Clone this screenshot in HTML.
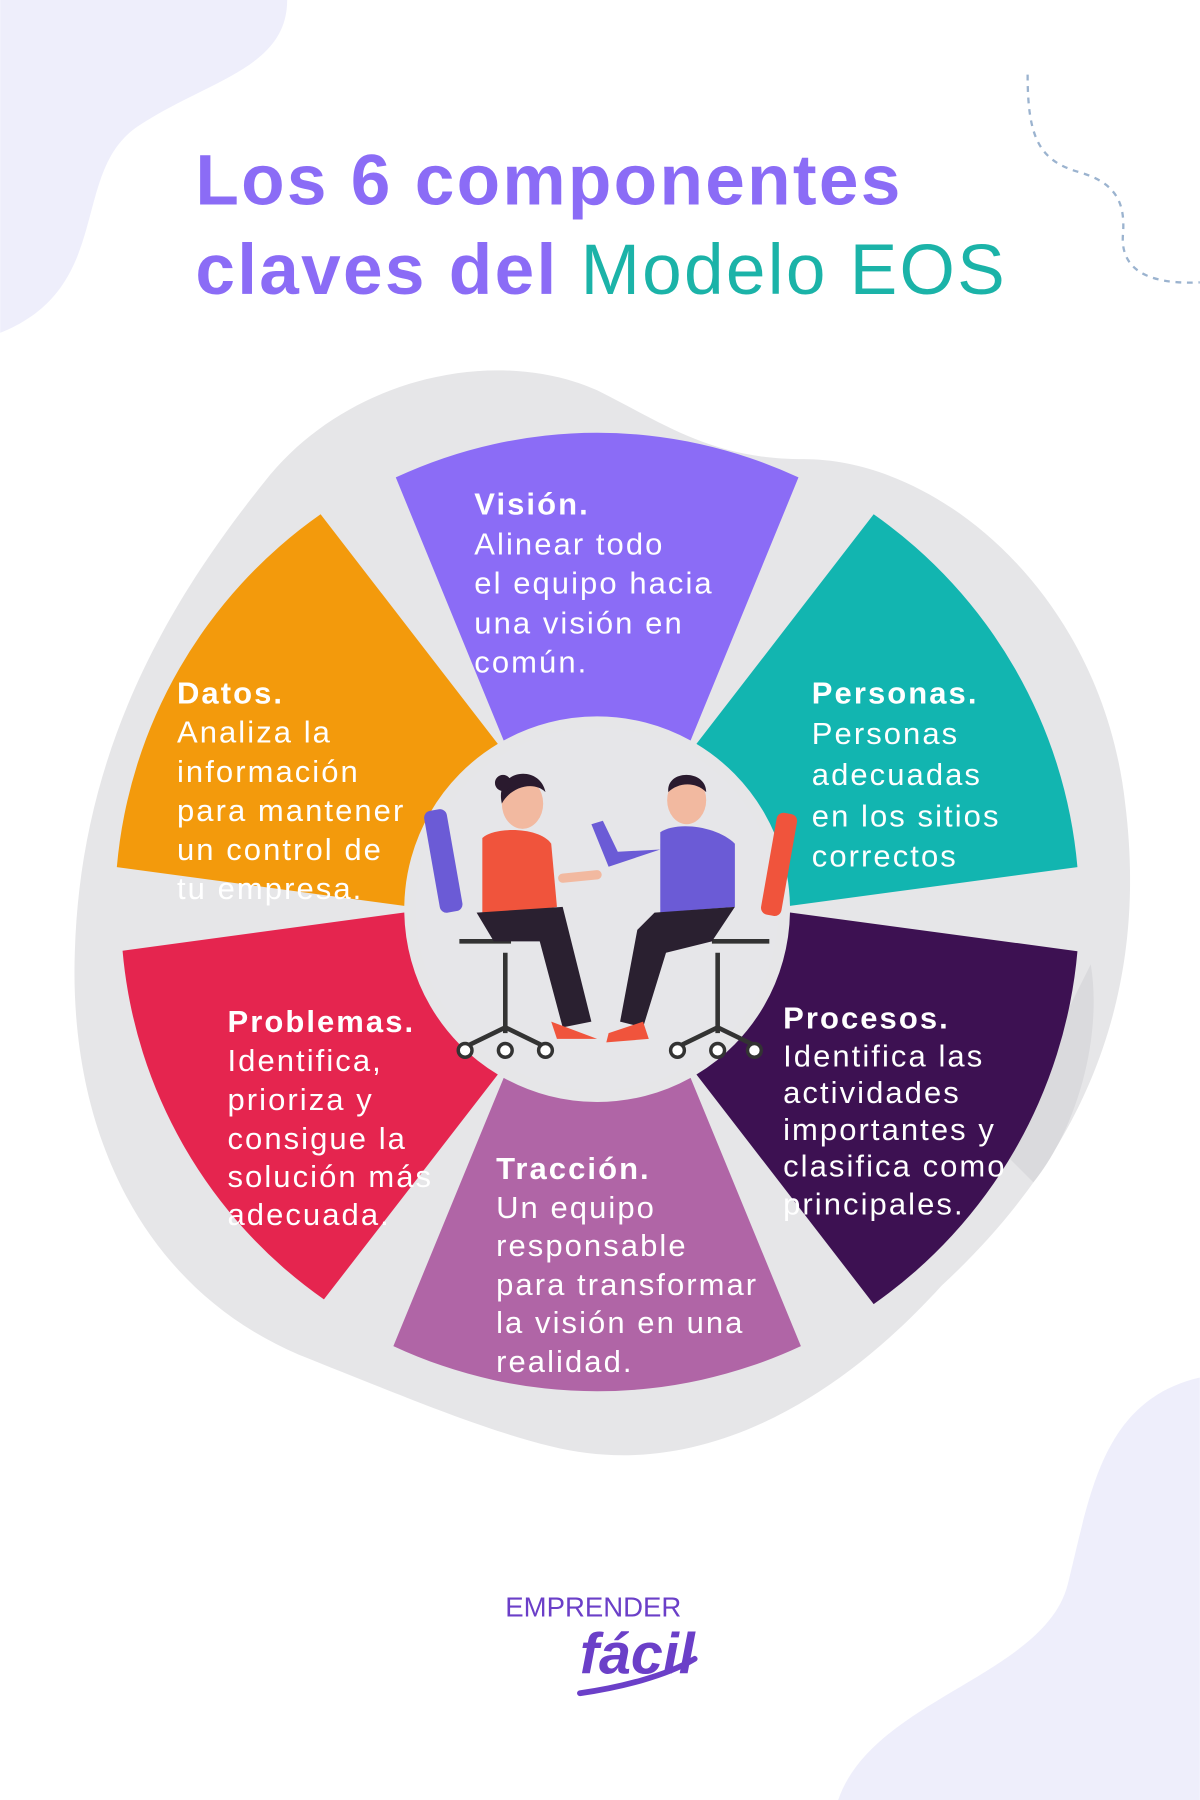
<!DOCTYPE html>
<html><head><meta charset="utf-8"><style>
html,body{margin:0;padding:0;background:#fff;}
svg{display:block;}
text{font-family:"Liberation Sans",sans-serif;}
</style></head><body>
<svg width="1200" height="1800" viewBox="0 0 1045 1568" xmlns="http://www.w3.org/2000/svg">
<rect width="1045" height="1568" fill="#fff"/>
<path d="M0 0 H250 C250 60 180 70 120 110 C60 150 100 250 0 290 Z" fill="#EEEEFB"/>
<path d="M1045 1200 C960 1220 950 1300 930 1380 C910 1460 760 1480 730 1568 H1045 Z" fill="#EEEEFB"/>
<path d="M895 65 C895 120 905 140 940 150 C975 160 980 180 978 205 C976 235 1000 248 1045 246" fill="none" stroke="#9BB3CF" stroke-width="2" stroke-dasharray="5,5"/>
<text x="170" y="178" font-size="62" font-weight="bold" fill="#8B6CF6" letter-spacing="2">Los 6 componentes</text>
<text x="170" y="256" font-size="62" font-weight="bold" fill="#8B6CF6" letter-spacing="2">claves del <tspan fill="#1BB3A8" font-weight="normal">Modelo EOS</tspan></text>
<path d="M230 420 C300 330 430 300 520 340 C580 370 620 400 700 400 C820 400 960 520 980 700 C1000 860 950 1000 820 1120 C720 1230 600 1290 480 1260 C420 1245 360 1220 260 1180 C120 1120 60 980 65 830 C70 650 150 520 230 420 Z" fill="#E6E6E8"/>
<path d="M950 840 C960 900 940 980 900 1030 L870 1000 Z" fill="#DADADD"/>
<g stroke="none">
<path id="s0" fill="#8B6CF6"/>
<path id="s1" fill="#12B5B0"/>
<path id="s2" fill="#3D1152"/>
<path id="s3" fill="#B065A6"/>
<path id="s4" fill="#E5254F"/>
<path id="s5" fill="#F39A0C"/>
</g>
<circle cx="520" cy="792" r="158" fill="#E6E6E9"/>
<g>
<rect x="376" y="705" width="20" height="90" rx="6" fill="#6B5BD6" transform="rotate(-10 386 750)"/>
<line x1="400" y1="820" x2="445" y2="820" stroke="#333" stroke-width="4"/>
<line x1="440" y1="830" x2="440" y2="900" stroke="#333" stroke-width="4"/>
<path d="M405 912 L440 895 L475 912" fill="none" stroke="#333" stroke-width="4"/>
<circle cx="405" cy="915" r="6" fill="#fff" stroke="#333" stroke-width="3"/>
<circle cx="475" cy="915" r="6" fill="#fff" stroke="#333" stroke-width="3"/>
<circle cx="440" cy="915" r="6" fill="#fff" stroke="#333" stroke-width="3"/>
<ellipse cx="455" cy="700" rx="18" ry="22" fill="#F2B9A0"/>
<path d="M437 700 C430 670 470 665 475 690 C465 680 445 685 437 700 Z" fill="#2A1A2E"/>
<circle cx="438" cy="682" r="7" fill="#2A1A2E"/>
<path d="M420 730 C430 720 470 720 480 735 L485 790 L420 800 Z" fill="#F0543C"/>
<path d="M415 795 L490 790 L515 890 L490 895 L470 820 L430 820 Z" fill="#2A2030"/>
<path d="M480 890 L520 905 L485 905 Z" fill="#F0543C"/>
<rect x="670" y="708" width="18" height="90" rx="6" fill="#F0543C" transform="rotate(10 679 750)"/>
<line x1="620" y1="820" x2="670" y2="820" stroke="#333" stroke-width="4"/>
<line x1="625" y1="830" x2="625" y2="900" stroke="#333" stroke-width="4"/>
<path d="M590 912 L625 895 L660 912" fill="none" stroke="#333" stroke-width="4"/>
<circle cx="590" cy="915" r="6" fill="#fff" stroke="#333" stroke-width="3"/>
<circle cx="657" cy="915" r="6" fill="#fff" stroke="#333" stroke-width="3"/>
<circle cx="625" cy="915" r="6" fill="#fff" stroke="#333" stroke-width="3"/>
<ellipse cx="598" cy="697" rx="17" ry="21" fill="#F2B9A0"/>
<path d="M582 690 C580 670 615 670 615 690 C605 680 590 682 582 690 Z" fill="#2A1A2E"/>
<path d="M575 725 C590 715 625 720 640 735 L640 790 L575 795 Z" fill="#6B5BD6"/>
<path d="M575 740 L530 755 L515 718 L525 715 L538 742 Z" fill="#6B5BD6"/>
<path d="M570 795 L640 790 L620 820 L580 830 L560 895 L540 890 L555 810 Z" fill="#2A2030"/>
<path d="M530 900 L560 890 L565 905 L528 908 Z" fill="#F0543C"/>
<path d="M490 765 L520 762" stroke="#F2B9A0" stroke-width="8" stroke-linecap="round"/>
</g>
<g fill="#fff" font-size="27" letter-spacing="1.8">
<text x="413" y="448"><tspan font-weight="bold">Visión.</tspan><tspan x="413" dy="35">Alinear todo</tspan><tspan x="413" dy="34">el equipo hacia</tspan><tspan x="413" dy="35">una visión en</tspan><tspan x="413" dy="34">común.</tspan></text>
<text x="707" y="613"><tspan font-weight="bold">Personas.</tspan><tspan x="707" dy="35">Personas</tspan><tspan x="707" dy="36">adecuadas</tspan><tspan x="707" dy="36">en los sitios</tspan><tspan x="707" dy="35">correctos</tspan></text>
<text x="154" y="613"><tspan font-weight="bold">Datos.</tspan><tspan x="154" dy="34">Analiza la</tspan><tspan x="154" dy="34">información</tspan><tspan x="154" dy="34">para mantener</tspan><tspan x="154" dy="34">un control de</tspan><tspan x="154" dy="34">tu empresa.</tspan></text>
<text x="198" y="899"><tspan font-weight="bold">Problemas.</tspan><tspan x="198" dy="34">Identifica,</tspan><tspan x="198" dy="34">prioriza y</tspan><tspan x="198" dy="34">consigue la</tspan><tspan x="198" dy="33">solución más</tspan><tspan x="198" dy="33">adecuada.</tspan></text>
<text x="682" y="896"><tspan font-weight="bold">Procesos.</tspan><tspan x="682" dy="33">Identifica las</tspan><tspan x="682" dy="32">actividades</tspan><tspan x="682" dy="32">importantes y</tspan><tspan x="682" dy="32">clasifica como</tspan><tspan x="682" dy="33">principales.</tspan></text>
<text x="432" y="1027"><tspan font-weight="bold">Tracción.</tspan><tspan x="432" dy="34">Un equipo</tspan><tspan x="432" dy="33">responsable</tspan><tspan x="432" dy="34">para transformar</tspan><tspan x="432" dy="33">la visión en una</tspan><tspan x="432" dy="34">realidad.</tspan></text>
</g>
<text x="440" y="1408" font-size="24" fill="#6B3FC8">EMPRENDER</text>
<text x="505" y="1458" font-size="50" font-style="italic" font-weight="bold" fill="#6B3FC8">fácil</text>
<path d="M505 1475 C540 1470 580 1460 605 1445" fill="none" stroke="#6B3FC8" stroke-width="5" stroke-linecap="round"/>
<script>
(function(){
var cx=520,cy=792,r1=168,centers=[-90,-30,30,90,150,210],R=[415,420,420,420,415,420];
function p(a,r){a=a*Math.PI/180;return (cx+r*Math.cos(a)).toFixed(1)+' '+(cy+r*Math.sin(a)).toFixed(1);}
for(var i=0;i<6;i++){var c=centers[i],h=25,Ro=R[i];
var hi=h+4;
var d='M'+p(c-hi,r1)+' L'+p(c-h,Ro)+' A'+Ro+' '+Ro+' 0 0 1 '+p(c+h,Ro)+' L'+p(c+hi,r1)+' A'+r1+' '+r1+' 0 0 0 '+p(c-hi,r1)+' Z';
document.getElementById('s'+i).setAttribute('d',d);}
})();
</script>
</svg>
</body></html>
